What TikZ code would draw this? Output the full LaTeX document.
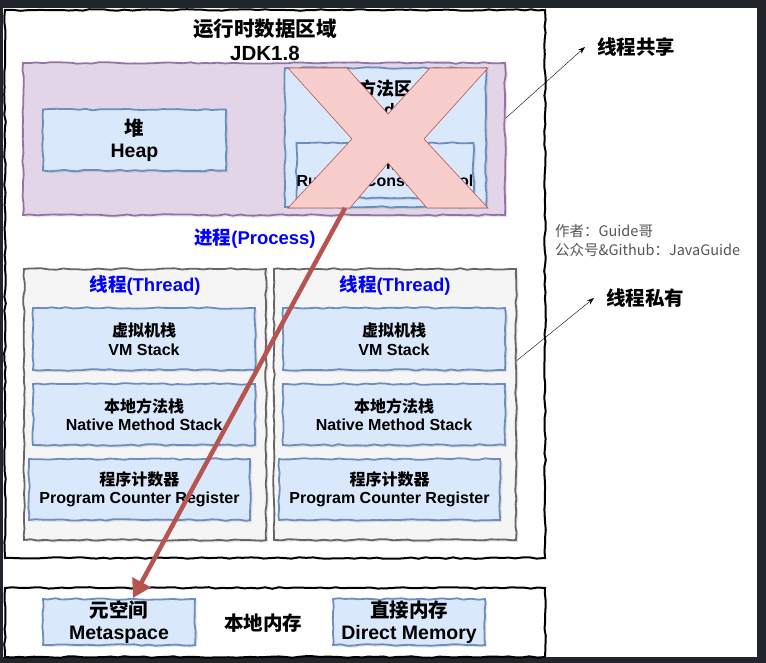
\documentclass[tikz,border=0pt]{standalone}
\usepackage{fontspec}
\setmainfont{Liberation Sans}
\newfontfamily\cjk{Noto Sans CJK SC}
\usetikzlibrary{positioning,decorations.pathmorphing,shadows,arrows.meta}
\definecolor{pagebg}{RGB}{33,37,43}
\definecolor{memfill}{HTML}{DAE8FC}
\definecolor{memline}{HTML}{6C8EBF}
\definecolor{areafill}{HTML}{E1D5E7}
\definecolor{arealine}{HTML}{9673A6}
\definecolor{thrfill}{HTML}{F5F5F5}
\definecolor{thrline}{HTML}{666666}
\definecolor{crossfill}{HTML}{F8CECC}
\definecolor{crossline}{HTML}{B85450}
\definecolor{procblue}{HTML}{0000FF}
\definecolor{notegray}{HTML}{555555}

\begin{document}
\pgfmathsetseed{11}
\begin{tikzpicture}[
    x=1pt, y=-1pt,
    sketch/.style={decorate, decoration={random steps, segment length=7pt, amplitude=0.8pt}},
    shade/.style={drop shadow={shadow xshift=2pt, shadow yshift=-2pt, opacity=0.2}},
    region/.style={
        rectangle,
        draw=black,
        line width=2pt,
        sketch
    },
    area/.style={
        rectangle,
        draw=arealine,
        line width=1.8pt,
        fill=areafill,
        sketch,
        shade
    },
    thread/.style={
        rectangle,
        draw=thrline,
        line width=1.8pt,
        fill=thrfill,
        sketch,
        shade
    },
    mem/.style={
        rectangle,
        draw=memline,
        line width=1.8pt,
        fill=memfill,
        align=center,
        inner sep=0pt,
        font=\bfseries\fontsize{16}{18.5}\selectfont,
        sketch,
        shade
    },
    bigmem/.style={
        mem,
        font=\bfseries\fontsize{19.5}{22.5}\selectfont
    },
    title/.style={font=\bfseries\fontsize{18.5}{22}\selectfont, text=procblue},
    tag/.style={font=\bfseries\cjk\fontsize{19.5}{22}\selectfont, anchor=west, inner sep=0pt},
    pointer/.style={-{Stealth[length=7pt,width=5pt]}, thin, black},
    drop/.style={-{Triangle[length=18pt,width=20pt]}, line width=4.5pt, crossline}
]
    % page
    \useasboundingbox (0,0) rectangle (766,663);
    \fill[pagebg] (0,0) rectangle (766,663);
    \fill[white] (3,8) rectangle (757,657);

    % runtime data area
    \node[region, minimum width=540, minimum height=548] (rtda) at (275,284) {};
    \node[align=center, font=\bfseries\fontsize{20.5}{24}\selectfont] (rtdatitle) at (265,40) {{\cjk 运行时数据区域}\\JDK1.8};

    % shared part
    \node[area, minimum width=482, minimum height=152] (shared) at (264,139) {};
    \node[bigmem, minimum width=183, minimum height=61] (heap) at (134.5,140) {{\cjk 堆}\\Heap};
    \node[mem, minimum width=201, minimum height=139] (method) at (385.5,137.5) {};
    \node[font=\bfseries\fontsize{18}{21}\selectfont, align=center, anchor=north] (methodtxt) at (385.5,76) {{\cjk 方法区}\\Method Area};
    \node[mem, minimum width=170, minimum height=55] (rcp) at (385,170.5) {{\cjk 运行时常量池}\\Runtime Constant Pool};

    % removed in 1.8
    \filldraw[fill=crossfill, draw=crossline, line width=0.6pt]
        (288,68) -- (347,68) -- (388,114) -- (430,68) -- (488,68) -- (424,139)
        -- (488,208) -- (427,208) -- (388,163) -- (350,208) -- (288,208) -- (352,139) -- cycle;
    \coordinate (crossbot) at (345,208);

    \node[title] (process) at (255,239) {{\cjk 进程}(Process)};

    % threads
    \foreach \t/\dx in {1/0, 2/250} {
        \node[thread, minimum width=242, minimum height=271] (thr\t) at (145+\dx,404.5) {};
        \node[title] (thrtitle\t) at (145+\dx,285) {{\cjk 线程}(Thread)};
        \node[mem, minimum width=222, minimum height=62] (vm\t) at (144+\dx,339) {{\cjk 虚拟机栈}\\VM Stack};
        \node[mem, minimum width=222, minimum height=61] (native\t) at (144+\dx,414.5) {{\cjk 本地方法栈}\\Native Method Stack};
        \node[mem, minimum width=221, minimum height=61] (pc\t) at (139.5+\dx,489.5) {{\cjk 程序计数器}\\Program Counter Register};
    }

    % native memory
    \node[region, minimum width=540, minimum height=69] (native) at (275,622.5) {};
    \node[bigmem, minimum width=152, minimum height=46] (meta) at (119,622) {{\cjk 元空间}\\Metaspace};
    \node[font=\bfseries\cjk\fontsize{19.5}{22}\selectfont] (nativetxt) at (263,623) {本地内存};
    \node[bigmem, minimum width=152, minimum height=46] (direct) at (409,622) {{\cjk 直接内存}\\Direct Memory};
    \coordinate (metatop) at (133,598);

    % labels
    \node[tag] (sharedtag) at (597,47) {线程共享};
    \node[tag] (privatetag) at (606,298) {线程私有};
    \node[anchor=north west, align=left, inner sep=0pt, text=notegray,
          font=\cjk\fontsize{14.5}{19}\selectfont] (author) at (555,224)
          {作者：Guide哥\\公众号\&Github：JavaGuide};

    \draw[pointer] ([yshift=21pt]shared.east) -- ([xshift=-12pt]sharedtag.west);
    \draw[pointer] ([yshift=44pt]thr2.east) -- ([xshift=-12pt]privatetag.west);
    \draw[drop] (crossbot) -- (metatop);
\end{tikzpicture}
\end{document}
